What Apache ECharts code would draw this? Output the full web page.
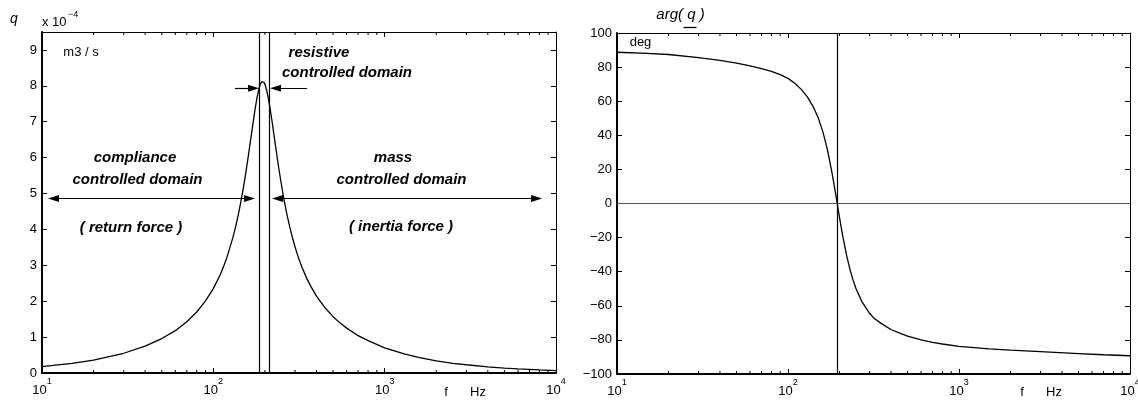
<!DOCTYPE html>
<html>
<head>
<meta charset="utf-8">
<script src="https://cdn.jsdelivr.net/npm/echarts@6/dist/echarts.min.js"></script>
<style>html,body{margin:0;padding:0;background:#fff}#c{width:1138px;height:400px}</style>
</head>
<body>
<div id="c"></div>
<script>
// ---------------- DATA ----------------
const FREQ_Q = [10,12,15,20,25,30,40,50,60,70,80,90,100,110,115,120,130,135,140,145,150,155,160,165,170,175,180,185,188,190,192,194,196,198,201,205,210,215,220,225,230,240,250,260,270,280,290,300,310,320,330,350,370,400,450,500,550,600,700,800,1000,1300,1600,2000,2500,3000,4000,5000,6000,8000,10000];
const Q_VALUES = [0.18,0.22,0.27,0.36,0.46,0.55,0.75,0.96,1.18,1.43,1.70,2.01,2.35,2.75,2.98,3.22,3.77,4.08,4.42,4.79,5.18,5.60,6.04,6.49,6.92,7.33,7.68,7.94,8.05,8.09,8.12,8.13,8.12,8.09,8.02,7.87,7.63,7.33,7.02,6.69,6.37,5.76,5.23,4.77,4.38,4.05,3.76,3.51,3.29,3.10,2.93,2.65,2.42,2.14,1.81,1.57,1.39,1.25,1.04,0.90,0.70,0.53,0.43,0.34,0.27,0.23,0.17,0.136,0.113,0.085,0.068];
const FREQ_PHASE = [10,15,20,30,40,50,60,70,80,90,100,110,120,130,140,150,160,170,180,185,190,194,198,205,210,220,230,240,250,270,300,320,350,400,450,500,600,700,800,1000,1500,2000,3000,5000,7000,10000];
const PHASE_DEG = [88.7,88.1,87.4,85.6,83.9,82.3,80.7,79.1,77.5,75.6,73.4,70.4,66.8,62.4,57.0,50.4,42.0,31.6,19.2,12.4,5.5,0,-5.4,-14.4,-20.2,-30.3,-38.4,-44.8,-50.0,-57.4,-64.4,-67.5,-70.3,-73.9,-76.0,-77.8,-80.0,-81.4,-82.4,-83.8,-85.3,-86.0,-86.9,-88.0,-88.7,-89.3];
const Q_TICKS = [0,1,2,3,4,5,6,7,8,9];
const PHASE_TICKS = [-100,-80,-60,-40,-20,0,20,40,60,80,100];
const X_TICK_LABELS = {10:'1',100:'2',1000:'3',10000:'4'};
const MINOR_FREQS = [20,30,40,50,60,70,80,90,200,300,400,500,600,700,800,900,2000,3000,4000,5000,6000,7000,8000,9000];
const RESISTIVE_BOUNDS = [185.6, 210.6];
const RESONANCE_F = 193.5;
// annotation anchors (data coordinates, arrowhead centres)
const COMPLIANCE_ARROW = [[11.67,4.86],[162.7,4.86]];
const MASS_ARROW = [[237.0,4.86],[7703,4.86]];
const RES_ARROW_L = [[133.8,7.93],[171.7,7.93]];
const RES_ARROW_R = [[352.4,7.93],[230.7,7.93]];

// ---------------- CHART ----------------
const FONT = '"Liberation Sans", Arial, Helvetica, sans-serif';
const chart = echarts.init(document.getElementById('c'), null, {renderer:'canvas'});

const xRich = {
  b:{fontSize:13, fontFamily:FONT, color:'#000', lineHeight:20, verticalAlign:'bottom'},
  s:{fontSize:9, fontFamily:FONT, color:'#000', lineHeight:10, verticalAlign:'top'}
};
function xAxes(gi){
  return [{
    type:'log', logBase:10, min:10, max:10000, gridIndex:gi, position:'bottom',
    axisLine:{show:true, onZero:false, lineStyle:{color:'#000', width:2}},
    axisTick:{show:true, inside:true, length:5, lineStyle:{color:'#000', width:1}},
    minorTick:{show:false}, splitLine:{show:false},
    axisLabel:{show:true, margin:4, rich:xRich,
      formatter:function(v){ const k = X_TICK_LABELS[Math.round(v)]; return k ? '{b|10}{s|'+k+'}' : ''; }}
  },{
    type:'log', logBase:10, min:10, max:10000, gridIndex:gi, position:'top',
    axisLine:{show:true, onZero:false, lineStyle:{color:'#000', width:1}},
    axisTick:{show:true, inside:true, length:5, lineStyle:{color:'#000', width:1}},
    axisLabel:{show:false}, splitLine:{show:false}
  }];
}
function yAxes(gi, min, max, interval, fmt){
  return [{
    type:'value', gridIndex:gi, min, max, interval, position:'left',
    axisLine:{show:true, onZero:false, lineStyle:{color:'#000', width:2}},
    axisTick:{show:true, inside:true, length:5, lineStyle:{color:'#000', width:1}},
    splitLine:{show:false},
    axisLabel:{show:true, margin:5, fontSize:13, fontFamily:FONT, color:'#000', formatter:fmt}
  },{
    type:'value', gridIndex:gi, min, max, interval, position:'right',
    axisLine:{show:true, onZero:false, lineStyle:{color:'#000', width:1}},
    axisTick:{show:true, inside:true, length:5, lineStyle:{color:'#000', width:1}},
    splitLine:{show:false}, axisLabel:{show:false}
  }];
}
function minorTicks(gi, yMin, yMax){
  return {
    type:'custom', xAxisIndex:gi*2, yAxisIndex:gi*2, clip:false, silent:true,
    data: MINOR_FREQS.map(f => [f, yMin]),
    encode:{x:0, y:1},
    renderItem:function(params, api){
      const f = api.value(0);
      const b = api.coord([f, yMin]);
      const t = api.coord([f, yMax]);
      return {type:'group', children:[
        {type:'line', shape:{x1:b[0], y1:b[1], x2:b[0], y2:b[1]-3}, style:{stroke:'#000', lineWidth:1}},
        {type:'line', shape:{x1:t[0], y1:t[1], x2:t[0], y2:t[1]+3}, style:{stroke:'#000', lineWidth:1}}
      ]};
    }
  };
}
function arrowPair(pts, startSym, endSym){
  return [
    {coord:pts[0], symbol:startSym, symbolSize:[7,11]},
    {coord:pts[1], symbol:endSym, symbolSize:[7,11]}
  ];
}
function txt(x, y, text, font, align){
  return {type:'text', x:x, y:y, silent:true, z:20,
    style:{text:text, font:font, fill:'#000', align:align||'center', verticalAlign:'middle',
           textAlign:align||'center', textVerticalAlign:'middle'}};
}
const FN = '13px ' + FONT;
const FB = 'italic bold 15px ' + FONT;

const qFmt = v => (Q_TICKS.indexOf(v) >= 0 ? String(v) : '');
const pFmt = v => (PHASE_TICKS.indexOf(v) >= 0 ? String(v).replace('-', '\u2212') : '');

const option = {
  animation:false,
  backgroundColor:'#fff',
  grid:[
    {left:42, right:1138-556, top:32, bottom:400-373, containLabel:false, outerBoundsMode:'none'},
    {left:617, right:1138-1130, top:33, bottom:400-374, containLabel:false, outerBoundsMode:'none'}
  ],
  xAxis:[...xAxes(0), ...xAxes(1)],
  yAxis:[...yAxes(0, 0, 9.5, 1, qFmt), ...yAxes(1, -100, 100, 20, pFmt)],
  series:[
    {
      type:'line', xAxisIndex:0, yAxisIndex:0, symbol:'none', smooth:false,
      data: FREQ_Q.map((f,i) => [f, Q_VALUES[i]]),
      lineStyle:{color:'#000', width:1.3},
      markLine:{
        silent:true, animation:false, symbol:['none','none'], label:{show:false},
        lineStyle:{color:'#000', width:1.2, type:'solid'},
        emphasis:{disabled:true},
        data:[
          [{coord:[RESISTIVE_BOUNDS[0], 0], symbol:'none'}, {coord:[RESISTIVE_BOUNDS[0], 9.5], symbol:'none'}],
          [{coord:[RESISTIVE_BOUNDS[1], 0], symbol:'none'}, {coord:[RESISTIVE_BOUNDS[1], 9.5], symbol:'none'}],
          arrowPair(COMPLIANCE_ARROW, 'triangle', 'triangle'),
          arrowPair(MASS_ARROW, 'triangle', 'triangle'),
          arrowPair(RES_ARROW_L, 'none', 'triangle'),
          arrowPair(RES_ARROW_R, 'none', 'triangle')
        ]
      }
    },
    minorTicks(0, 0, 9.5),
    {
      type:'line', xAxisIndex:2, yAxisIndex:2, symbol:'none', smooth:false,
      data: FREQ_PHASE.map((f,i) => [f, PHASE_DEG[i]]),
      lineStyle:{color:'#000', width:1.3},
      markLine:{
        silent:true, animation:false, symbol:['none','none'], label:{show:false},
        emphasis:{disabled:true},
        data:[
          [{coord:[10, 0], lineStyle:{color:'#555', width:1.2, type:'solid'}}, {coord:[10000, 0]}],
          [{coord:[RESONANCE_F, -100], lineStyle:{color:'#000', width:1.2, type:'solid'}}, {coord:[RESONANCE_F, 100]}]
        ]
      }
    },
    minorTicks(1, -100, 100)
  ],
  graphic:[
    txt(14, 19.5, 'q', 'italic 14px ' + FONT),
    txt(42, 22, 'x 10', FN, 'left'),
    txt(68, 15, '\u22124', '9px ' + FONT, 'left'),
    txt(81, 52.5, 'm3 / s', FN),
    txt(319, 52.7, 'resistive', FB),
    txt(282, 73, 'controlled domain', FB, 'left'),
    txt(135, 158, 'compliance', FB),
    txt(137.5, 179.7, 'controlled domain', FB),
    txt(131, 228, '( return force )', FB),
    txt(393, 158, 'mass', FB),
    txt(401.5, 179.7, 'controlled domain', FB),
    txt(401, 227, '( inertia force )', FB),
    txt(446, 392, 'f', FN),
    txt(478, 392, 'Hz', FN),
    txt(680.5, 15, 'arg( q )', 'italic 15px ' + FONT),
    {type:'line', silent:true, z:20, shape:{x1:683.5, y1:27.5, x2:696.5, y2:27.5}, style:{stroke:'#000', lineWidth:1.3}},
    txt(640.5, 42.5, 'deg', FN),
    txt(1022, 392, 'f', FN),
    txt(1054, 392, 'Hz', FN)
  ]
};
chart.setOption(option);
</script>
</body>
</html>
